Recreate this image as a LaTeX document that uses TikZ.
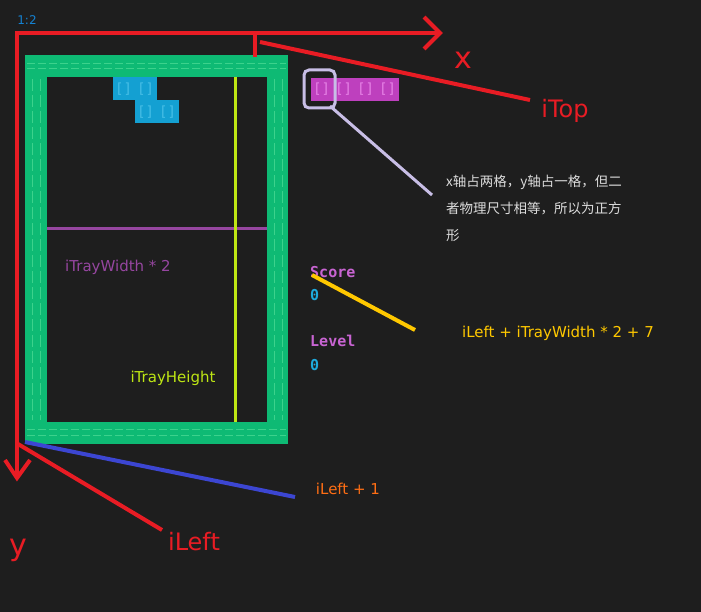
\documentclass[tikz,border=0pt]{standalone}
\usepackage{fontspec}
\setmainfont{DejaVu Sans}
\newfontfamily\cjk{Noto Sans CJK SC}
\newfontfamily\mono{DejaVu Sans Mono}
\begin{document}
\begin{tikzpicture}[x=1pt,y=-1pt,
  redl/.style={draw={rgb,255:red,232;green,28;blue,36},line width=4pt},
  lbl/.style={inner sep=0pt,font=\fontsize{15}{18}\selectfont},
  big/.style={inner sep=0pt,text={rgb,255:red,232;green,28;blue,36},font=\fontsize{30}{32}\selectfont},
  mono/.style={inner sep=0pt,font=\mono\bfseries\fontsize{15}{18}\selectfont,anchor=west}]
\fill[fill={rgb,255:red,30;green,30;blue,30}] (0,0) rectangle (701,612);
\useasboundingbox (0,0) rectangle (701,612);
\definecolor{grn}{RGB}{14,186,116}
\definecolor{lgrn}{RGB}{60,210,140}
% tray
\fill[grn] (25,55) rectangle (288,444);
\fill[fill={rgb,255:red,30;green,30;blue,30}] (47,77) rectangle (267,422);
\foreach \yy in {63,68,429,435} \draw[lgrn,dash pattern=on 8pt off 3pt] (27,\yy) -- (286,\yy);
\foreach \xx in {32,40,274,282} \draw[lgrn,dash pattern=on 12pt off 4pt] (\xx,79) -- (\xx,420);
% blocks
\fill[fill={rgb,255:red,20;green,160;blue,210}] (113,77) rectangle (157,100);
\fill[fill={rgb,255:red,20;green,160;blue,210}] (135,100) rectangle (179,123);
\fill[fill={rgb,255:red,190;green,64;blue,190}] (311,78) rectangle (399,101);
\foreach \xx in {313,335,357,379} \node[inner sep=0pt,anchor=west,text={rgb,255:red,230;green,130;blue,230},font=\mono\fontsize{14}{16}\selectfont] (m\xx) at (\xx,89) {[]};
\foreach \xx/\yy in {115/89,137/89,137/112,159/112} \node[inner sep=0pt,anchor=west,text={rgb,255:red,70;green,190;blue,230},font=\mono\fontsize{14}{16}\selectfont] (b\xx\yy) at (\xx,\yy) {[]};
% lavender
\draw[draw={rgb,255:red,200;green,190;blue,230},line width=3pt,rounded corners=5pt] (304,70) rectangle (335,108);
\coordinate (lv1) at (330,106); \coordinate (lv2) at (432,195);
\draw[draw={rgb,255:red,200;green,190;blue,230},line width=3pt] (lv1) -- (lv2);
% measures
\coordinate (p1) at (47,229); \coordinate (p2) at (267,229);
\draw[draw={rgb,255:red,150;green,70;blue,160},line width=3pt] (p1) -- (p2);
\coordinate (g1) at (235,77); \coordinate (g2) at (235,422);
\draw[draw={rgb,255:red,190;green,230;blue,20},line width=3pt] (g1) -- (g2);
\node[lbl,text={rgb,255:red,150;green,70;blue,160}] (tw) at (118,267) {iTrayWidth * 2};
\node[lbl,text={rgb,255:red,190;green,230;blue,20}] (th) at (173,378) {iTrayHeight};
% score
\node[mono,text={rgb,255:red,200;green,100;blue,210}] (sc) at (310,272) {Score};
\node[mono,text={rgb,255:red,30;green,170;blue,220}] (s0) at (310,295) {0};
\node[mono,text={rgb,255:red,200;green,100;blue,210}] (lv) at (310,341) {Level};
\node[mono,text={rgb,255:red,30;green,170;blue,220}] (l0) at (310,365) {0};
\coordinate (y1) at (312,275); \coordinate (y2) at (415,330);
\draw[draw={rgb,255:red,255;green,200;blue,0},line width=4pt] (y1) -- (y2);
\node[lbl,text={rgb,255:red,255;green,200;blue,0}] (il7) at (558,333) {iLeft + iTrayWidth * 2 + 7};
% axes
\coordinate (o) at (17,33); \coordinate (xe) at (440,33); \coordinate (ye) at (17,478);
\draw[redl] (xe) -- (o) -- (ye);
\draw[redl] (424,17) -- (xe) -- (424,49);
\draw[redl] (5,460) -- (ye) -- (30,460);
\coordinate (t1) at (255,33); \coordinate (t2) at (255,57);
\draw[redl] (t1) -- (t2);
\coordinate (r1) at (260,42); \coordinate (r2) at (530,100);
\draw[redl] (r1) -- (r2);
\coordinate (r3) at (18,444); \coordinate (r4) at (162,530);
\draw[redl] (r3) -- (r4);
\coordinate (u1) at (25,442); \coordinate (u2) at (295,497);
\draw[draw={rgb,255:red,60;green,70;blue,210},line width=4pt] (u1) -- (u2);
\node[big] (X) at (463,60) {x};
\node[big,font=\fontsize{24}{28}\selectfont] (it) at (565,111) {iTop};
\node[big,font=\fontsize{24}{28}\selectfont] (il) at (194,542) {iLeft};
\node[big] (Y) at (18,550) {y};
\node[lbl,text={rgb,255:red,255;green,110;blue,20}] (il1) at (348,489) {iLeft + 1};
\node[inner sep=0pt,text={rgb,255:red,20;green,130;blue,210},font=\fontsize{12}{14}\selectfont] (r12) at (27,20) {1:2};
\node[inner sep=0pt,anchor=north west,align=left,text={rgb,255:red,220;green,220;blue,220},font=\cjk\fontsize{13.5}{27}\selectfont] (note) at (446,175) {x轴占两格，y轴占一格，但二\\者物理尺寸相等，所以为正方\\形};
\end{tikzpicture}
\end{document}
